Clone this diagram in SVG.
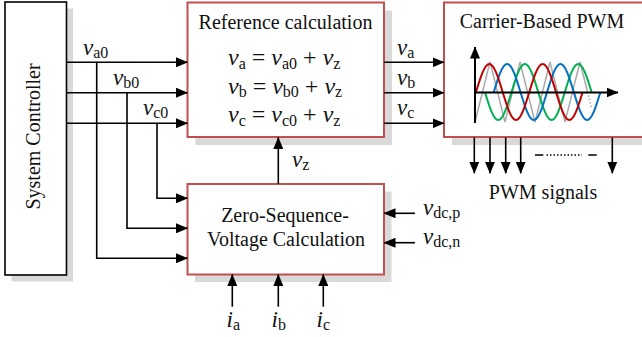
<svg xmlns="http://www.w3.org/2000/svg" width="642" height="337" viewBox="0 0 642 337">
<style>
.box{fill:#fff;stroke:#c0504d;stroke-width:2}
.sc{fill:#fff;stroke:#000;stroke-width:1.6}
.sh{fill:#d9d9d9}
.t{font-family:"Liberation Serif","Times New Roman",serif;font-size:20px;fill:#111}
.m{font-family:"Liberation Serif","Times New Roman",serif;font-size:23px;fill:#111}
.eq{font-family:"Liberation Serif","Times New Roman",serif;font-size:24px;fill:#111}
.v{font-style:italic}
.s{font-size:16px;font-style:normal}
.ln{fill:none;stroke:#000;stroke-width:1.6}
.w{fill:none;stroke-width:2}
</style>
<defs>
<marker id="ar" markerUnits="userSpaceOnUse" markerWidth="12" markerHeight="10" refX="11.5" refY="5" orient="auto">
<path d="M0,0 L12,5 L0,10 z" fill="#000"/>
</marker>
</defs>

<g id="system-controller">
<rect class="sh" x="11.5" y="8.5" width="61.5" height="273"/>
<rect class="sc" x="5" y="2" width="61.5" height="273"/>
<text class="t" transform="translate(39.5,136.5) rotate(-90)" text-anchor="middle">System Controller</text>
</g>

<g id="reference-calculation">
<rect class="sh" x="195.5" y="10.5" width="196.5" height="134.5"/>
<rect class="box" x="187.5" y="2.5" width="196.5" height="134.5"/>
<text class="t" x="285.5" y="29" text-anchor="middle">Reference calculation</text>
<text class="eq" x="228" y="65"><tspan class="v">v</tspan><tspan class="s" dy="3.5">a</tspan><tspan dy="-3.5"> = </tspan><tspan class="v">v</tspan><tspan class="s" dy="3.5">a0</tspan><tspan dy="-3.5"> + </tspan><tspan class="v">v</tspan><tspan class="s" dy="3.5">z</tspan></text>
<text class="eq" x="228" y="93.5"><tspan class="v">v</tspan><tspan class="s" dy="3.5">b</tspan><tspan dy="-3.5"> = </tspan><tspan class="v">v</tspan><tspan class="s" dy="3.5">b0</tspan><tspan dy="-3.5"> + </tspan><tspan class="v">v</tspan><tspan class="s" dy="3.5">z</tspan></text>
<text class="eq" x="228" y="122"><tspan class="v">v</tspan><tspan class="s" dy="3.5">c</tspan><tspan dy="-3.5"> = </tspan><tspan class="v">v</tspan><tspan class="s" dy="3.5">c0</tspan><tspan dy="-3.5"> + </tspan><tspan class="v">v</tspan><tspan class="s" dy="3.5">z</tspan></text>
</g>

<g id="carrier-based-pwm">
<rect class="sh" x="452" y="10.5" width="210" height="134.5"/>
<rect class="box" x="444" y="2.5" width="210" height="134.5"/>
<text class="t" x="542" y="28" text-anchor="middle">Carrier-Based PWM</text>
<polyline fill="none" stroke="#aaaaaa" stroke-width="1.5" points="475,122 490,62 505,122 520,62 535,122 550,62 565,122 580,62 587.5,92"/>
<line x1="587.5" y1="92" x2="591.5" y2="108" stroke="#aaaaaa" stroke-width="1.5" stroke-dasharray="1.5 2"/>
<path class="w" stroke="#00b050" d="M484.9,92 c4.35,14.34 8.51,28 13.33,28 c4.82,0 8.98,-13.66 13.33,-28 c4.35,-14.34 8.51,-28 13.33,-28 c4.82,0 8.98,13.66 13.33,28 c4.35,14.34 8.51,28 13.33,28 c4.82,0 8.98,-13.66 13.33,-28 c4.35,-14.34 8.51,-28 13.33,-28 c4.82,0 8.98,13.66 13.33,28"/>
<path class="w" stroke="#0070c0" d="M493.8,92 c4.35,-14.34 8.51,-28 13.33,-28 c4.82,0 8.98,13.66 13.33,28 c4.35,14.34 8.51,28 13.33,28 c4.82,0 8.98,-13.66 13.33,-28 c4.35,-14.34 8.51,-28 13.33,-28 c4.82,0 8.98,13.66 13.33,28 c4.35,14.34 8.51,28 13.33,28 c4.82,0 8.98,-13.66 13.33,-28"/>
<path class="w" stroke="#c00000" d="M476,92 c4.35,-14.34 8.51,-28 13.33,-28 c4.82,0 8.98,13.66 13.33,28 c4.35,14.34 8.51,28 13.33,28 c4.82,0 8.98,-13.66 13.33,-28 c4.35,-14.34 8.51,-28 13.33,-28 c4.82,0 8.98,13.66 13.33,28 c4.35,14.34 8.51,28 13.33,28 c4.82,0 8.98,-13.66 13.33,-28"/>
<line x1="475" y1="123" x2="475" y2="47" stroke="#000" stroke-width="2" marker-end="url(#ar)"/>
<line x1="475" y1="92.5" x2="618" y2="92.5" stroke="#000" stroke-width="2" marker-end="url(#ar)"/>
</g>

<g id="zero-sequence-voltage-calculation">
<rect class="sh" x="195" y="191.5" width="196.5" height="90.5"/>
<rect class="box" x="187.5" y="184" width="196.5" height="90.5"/>
<text class="t" x="285" y="222" text-anchor="middle">Zero-Sequence-</text>
<text class="t" x="286" y="246" text-anchor="middle">Voltage Calculation</text>
</g>

<g id="connectors">
<path class="ln" marker-end="url(#ar)" d="M66.5,62.3 H187.5"/>
<path class="ln" marker-end="url(#ar)" d="M66.5,92.7 H187.5"/>
<path class="ln" marker-end="url(#ar)" d="M66.5,123.3 H187.5"/>
<path class="ln" marker-end="url(#ar)" d="M96.7,62.3 V258.3 H187.5"/>
<path class="ln" marker-end="url(#ar)" d="M127,92.7 V228.3 H187.5"/>
<path class="ln" marker-end="url(#ar)" d="M157,123.3 V198.3 H187.5"/>
<path class="ln" marker-end="url(#ar)" d="M384,62.3 H444"/>
<path class="ln" marker-end="url(#ar)" d="M384,92.7 H444"/>
<path class="ln" marker-end="url(#ar)" d="M384,123.3 H444"/>
<path class="ln" marker-end="url(#ar)" d="M278.3,184 V137.5"/>
<path class="ln" marker-end="url(#ar)" d="M474.3,137.5 V173.3"/>
<path class="ln" marker-end="url(#ar)" d="M490,137.5 V173.3"/>
<path class="ln" marker-end="url(#ar)" d="M505.7,137.5 V173.3"/>
<path class="ln" marker-end="url(#ar)" d="M520.7,137.5 V173.3"/>
<path class="ln" marker-end="url(#ar)" d="M612.3,137.5 V173.3"/>
<path class="ln" d="M535,155 H543.3 M588.3,155 H596.7"/>
<path class="ln" stroke-dasharray="1.5 2" d="M546.5,155 H582"/>
<path class="ln" marker-end="url(#ar)" d="M415,213.3 H384"/>
<path class="ln" marker-end="url(#ar)" d="M415,242.7 H384"/>
<path class="ln" marker-end="url(#ar)" d="M232.3,306.7 V274.5"/>
<path class="ln" marker-end="url(#ar)" d="M278.3,306.7 V274.5"/>
<path class="ln" marker-end="url(#ar)" d="M323.3,306.7 V274.5"/>
</g>

<g id="labels">
<text class="m" x="83" y="55"><tspan class="v">v</tspan><tspan class="s" dy="3">a0</tspan></text>
<text class="m" x="113" y="85"><tspan class="v">v</tspan><tspan class="s" dy="3">b0</tspan></text>
<text class="m" x="143" y="115"><tspan class="v">v</tspan><tspan class="s" dy="3">c0</tspan></text>
<text class="m" x="397" y="55"><tspan class="v">v</tspan><tspan class="s" dy="3">a</tspan></text>
<text class="m" x="397" y="85"><tspan class="v">v</tspan><tspan class="s" dy="3">b</tspan></text>
<text class="m" x="397" y="115"><tspan class="v">v</tspan><tspan class="s" dy="3">c</tspan></text>
<text class="m" x="292" y="166.5"><tspan class="v">v</tspan><tspan class="s" dy="3">z</tspan></text>
<text class="m" x="423" y="215"><tspan class="v">v</tspan><tspan class="s" dy="3">dc,p</tspan></text>
<text class="m" x="423" y="244"><tspan class="v">v</tspan><tspan class="s" dy="3">dc,n</tspan></text>
<text class="m" x="226.5" y="327"><tspan class="v">i</tspan><tspan class="s" dy="3">a</tspan></text>
<text class="m" x="271.5" y="327"><tspan class="v">i</tspan><tspan class="s" dy="3">b</tspan></text>
<text class="m" x="316.5" y="327"><tspan class="v">i</tspan><tspan class="s" dy="3">c</tspan></text>
<text class="t" x="543" y="199" text-anchor="middle">PWM signals</text>
</g>
</svg>
